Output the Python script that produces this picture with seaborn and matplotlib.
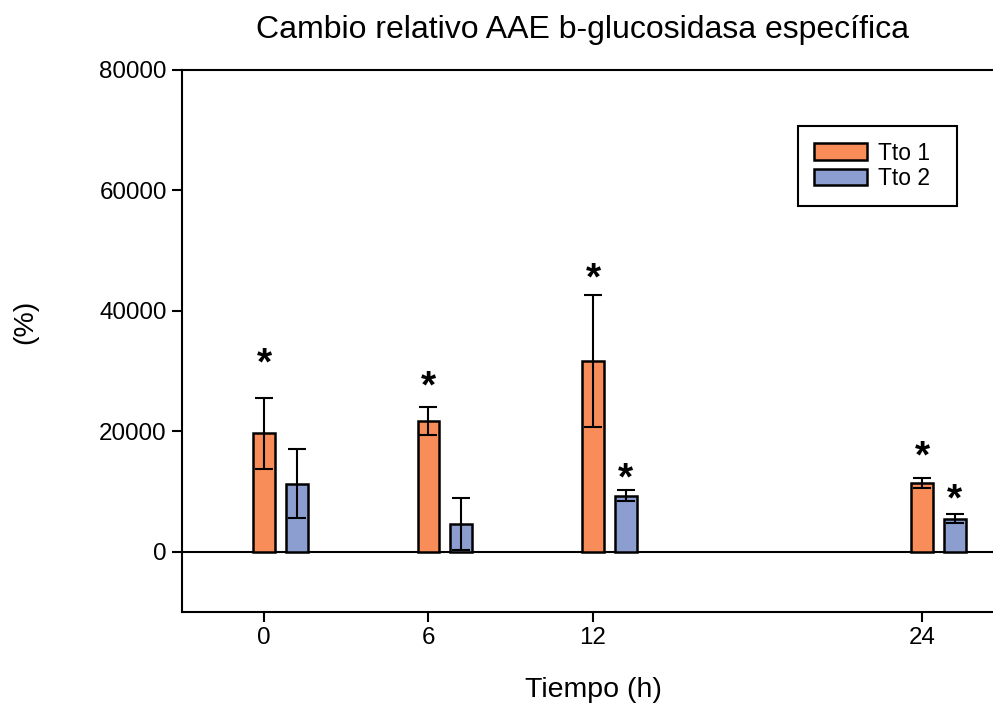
import numpy as np
import pandas as pd
import seaborn as sns
import matplotlib.pyplot as plt
from matplotlib.patches import Patch

# data
tiempos = [0, 6, 12, 24]
tratamientos = ['Tto 1', 'Tto 2']
media_t1 = [19700, 21700, 31700, 11400]
media_t2 = [11300, 4600, 9300, 5500]
err_t1 = [5900, 2300, 11000, 800]
err_t2 = [5700, 4300, 900, 700]
# asterisk heights (significance marks)
star_t1 = [31100, 27250, 45200, 15650]
star_t2 = [None, None, 12000, 8500]

colores = {'Tto 1': '#F98D5A', 'Tto 2': '#8C9ED0'}
desplaz = {'Tto 1': 0.0, 'Tto 2': 1.2}

df = pd.DataFrame({
    'tiempo': tiempos * 2,
    'trat': ['Tto 1'] * 4 + ['Tto 2'] * 4,
    'media': media_t1 + media_t2,
    'err': err_t1 + err_t2,
})
df['pos'] = df['tiempo'] + df['trat'].map(desplaz)

sns.set_style('ticks')
plt.rcParams['font.family'] = ['Liberation Sans', 'DejaVu Sans']
for k in ['text.color', 'axes.labelcolor', 'xtick.color', 'ytick.color']:
    plt.rcParams[k] = 'black'

fig = plt.figure(figsize=(9.93, 7.04), dpi=100)
ax = fig.add_axes([0.1833, 0.1307, 0.828, 0.770])

sns.barplot(data=df, x='pos', y='media', hue='trat', palette=colores,
            native_scale=True, dodge=False, width=0.8 / 1.2, errorbar=None,
            saturation=1, edgecolor='black', linewidth=1.8, legend=False,
            ax=ax, zorder=2)

ax.errorbar(df['pos'], df['media'], yerr=df['err'], fmt='none', ecolor='black',
            elinewidth=1.5, capsize=6.5, capthick=1.5, zorder=3)

for t, s in zip(tiempos, star_t1):
    if s is not None:
        ax.text(t + desplaz['Tto 1'], s, '*', ha='center', va='center',
                fontsize=28, fontweight='bold')
for t, s in zip(tiempos, star_t2):
    if s is not None:
        ax.text(t + desplaz['Tto 2'], s, '*', ha='center', va='center',
                fontsize=28, fontweight='bold')

ax.axhline(0, color='black', lw=1.5, zorder=1)

ax.set_xlim(-2.99, 27.0)
ax.set_ylim(-10000, 80000)
ax.set_xticks(tiempos)
ax.set_xticklabels([str(t) for t in tiempos])
ax.set_yticks([0, 20000, 40000, 60000, 80000])
ax.tick_params(axis='both', labelsize=17.4, length=7, width=1.5,
               direction='out', pad=4)
for sp in ax.spines.values():
    sp.set_linewidth(1.5)
    sp.set_color('black')

ax.set_xlabel('Tiempo (h)', fontsize=20.5, labelpad=20)
ax.set_ylabel('(%)', fontsize=20.5)
ax.yaxis.set_label_coords(-0.175, 0.535)
ax.set_title('Cambio relativo AAE b-glucosidasa específica', fontsize=23,
             pad=23)
ax.title.set_position((0.487, 1.0))

handles = [Patch(facecolor=colores[t], edgecolor='black', linewidth=1.8, label=t)
           for t in tratamientos]
leg = ax.legend(handles=handles, loc='upper left',
                bbox_to_anchor=(0.749, 0.797, 0.1934, 0.1), mode='expand',
                borderaxespad=0, fontsize=16.5, frameon=True, fancybox=False,
                framealpha=1, edgecolor='black', handlelength=2.3,
                handleheight=0.74, labelspacing=0.1, borderpad=0.7,
                handletextpad=0.5)
leg.get_frame().set_linewidth(1.5)

fig.savefig('out.png', dpi=100)
